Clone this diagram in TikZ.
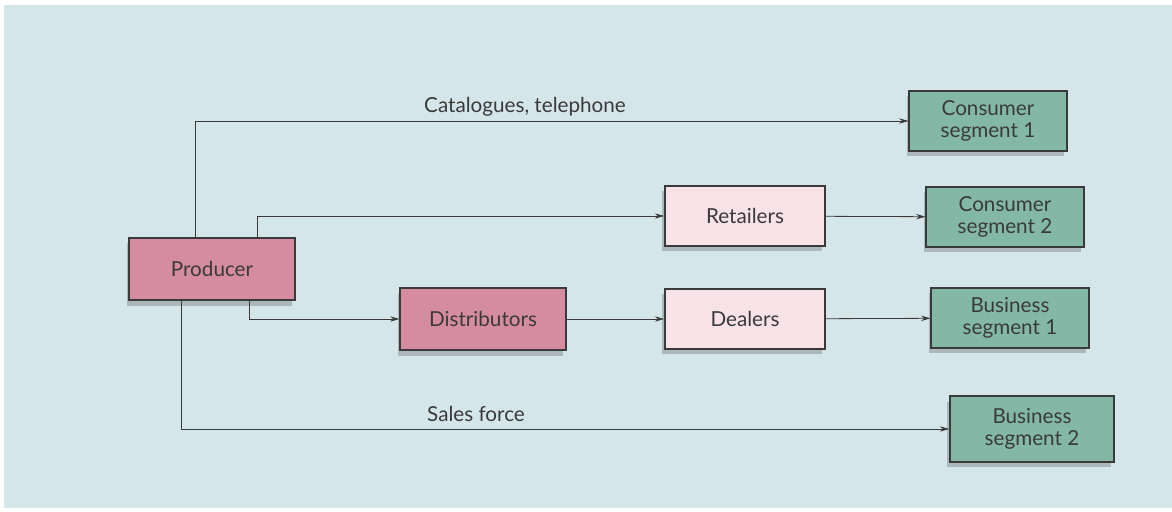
\documentclass[tikz,border=0pt]{standalone}
\usepackage{fontspec}
\setmainfont{Lato}
\usepackage{tikz}
\usetikzlibrary{positioning, calc, arrows.meta, shadows}
\definecolor{pagebg}{HTML}{D5E6EA}
\definecolor{mauve}{HTML}{D68CA0}
\definecolor{palepink}{HTML}{F6E2E7}
\definecolor{segteal}{HTML}{83B8A7}
\definecolor{inkgray}{HTML}{3A3A3A}
\tikzset{
	boxnode/.style={
			shape=rectangle,
			draw=inkgray,
			line width=1.3pt,
			text=inkgray,
			align=center,
			inner sep=0pt,
			font=\fontsize{15.5}{17}\selectfont,
			drop shadow={shadow xshift=-2pt, shadow yshift=-4pt, opacity=0.3, fill=black!70}
		},
	firmnode/.style={
			boxnode,
			fill=mauve,
			minimum width=124pt,
			minimum height=47pt
		},
	middlenode/.style={
			boxnode,
			fill=palepink,
			minimum width=120pt,
			minimum height=45pt
		},
	segmentnode/.style={
			boxnode,
			fill=segteal,
			minimum width=118pt,
			minimum height=45pt
		},
	conn/.style={
			draw=inkgray,
			line width=0.6pt,
			-{Stealth[length=7pt,width=4pt]}
		},
	labeltext/.style={text=inkgray, font=\fontsize{15.5}{17}\selectfont}
}

\begin{document}
\begin{tikzpicture}[x=0.75pt, y=-0.75pt]

  \useasboundingbox (0,0) rectangle (1172,511);
  \fill[white] (0,0) rectangle (1172,511);
  \fill[pagebg] (4,5) rectangle (1172,508);

  \node[firmnode] (prod) at (212,269) {Producer};
  \node[firmnode] (dist) at (483,319) {Distributors};

  \node[middlenode] (ret) at (745,216) {Retailers};
  \node[middlenode] (deal) at (745,319) {Dealers};

  \node[segmentnode] (cs1) at (988,121) {Consumer\\segment 1};
  \node[segmentnode] (cs2) at (1005,217) {Consumer\\segment 2};
  \node[segmentnode] (bs1) at (1010,318) {Business\\segment 1};
  \node[segmentnode, minimum width=123pt, minimum height=49pt] (bs2) at (1032,429) {Business\\segment 2};

  \node[labeltext] (cat) at (525,107) {Catalogues, telephone};
  \node[labeltext] (sales) at (476,414) {Sales force};

  \draw[conn] ($(prod.north)+(-17,0)$) |- (cs1.west);
  \draw[conn] ($(prod.north)+(45,0)$) |- (ret.west);
  \draw[conn] ($(prod.south)+(37,0)$) |- (dist.west);
  \draw[conn] ($(prod.south)+(-31,0)$) |- (bs2.west);

  \draw[conn] (ret) -- (cs2);
  \draw[conn] (dist) -- (deal);
  \draw[conn] (deal) -- (bs1);

\end{tikzpicture}
\end{document}
